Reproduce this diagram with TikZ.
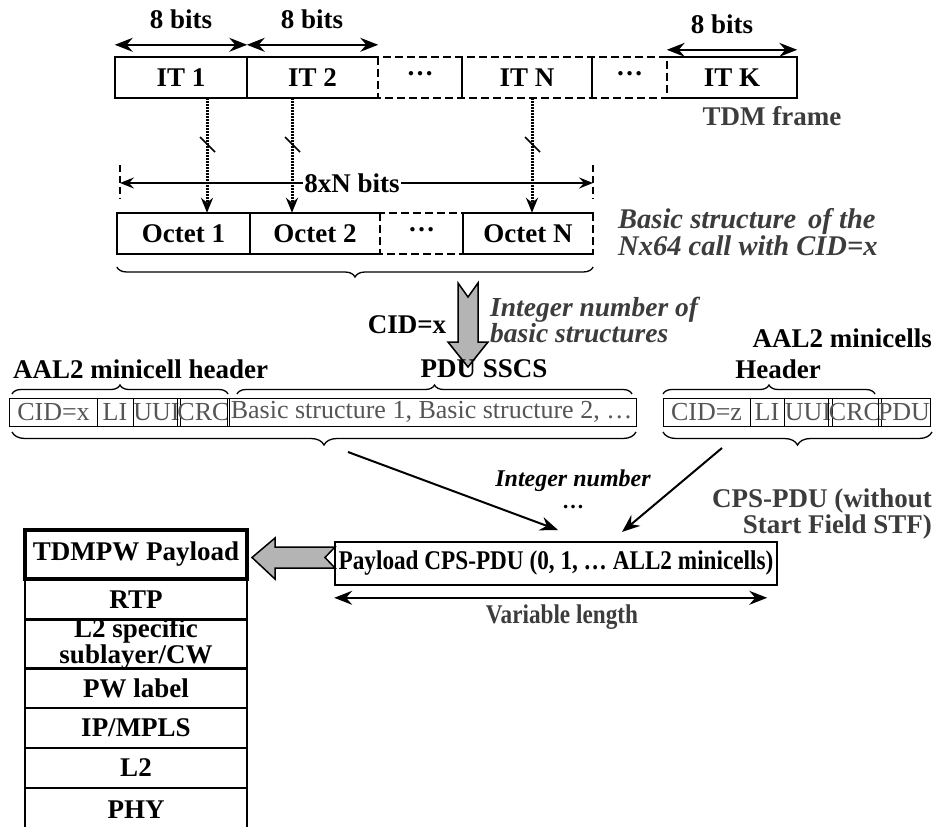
\documentclass[tikz,border=0pt]{standalone}
\usepackage{fontspec}
\setmainfont{Liberation Serif}
\usetikzlibrary{arrows.meta,decorations.pathreplacing,calc}
\definecolor{txtgray}{HTML}{3C3C3C}
\definecolor{cellgray}{HTML}{555555}
\definecolor{arrowfill}{HTML}{B4B4B4}
\newcommand\bigf{\fontsize{27bp}{30bp}\selectfont}
\newcommand\cellf{\fontsize{26bp}{28bp}\selectfont}
\newcommand\middots{\raisebox{0.28em}{…}}
\begin{document}
\begin{tikzpicture}[x=1bp,y=-1bp,
  lbl/.style={font=\bigf\bfseries, inner sep=0pt, anchor=base},
  glbl/.style={lbl, text=txtgray},
  cellbox/.style={inner sep=0pt, minimum height=41bp, font=\bigf\bfseries},
  rowcell/.style={draw, line width=1bp, inner sep=0pt, minimum height=28bp, font=\cellf, text=cellgray},
  solidline/.style={line width=1.6bp},
  dashline/.style={line width=1.6bp, dash pattern=on 8bp off 4bp},
  dblarrow/.style={line width=2bp, {Stealth[length=18pt,width=14pt,inset=6pt]}-{Stealth[length=18pt,width=14pt,inset=6pt]}},
  onearrow/.style={line width=2bp, -{Stealth[length=18pt,width=14pt,inset=6pt]}},
  dotarrow/.style={line width=3bp, dash pattern=on 1.5bp off 1.5bp, -{Stealth[length=15pt,width=12pt]}},
  tick/.style={line width=1.6bp},
  brc/.style={decorate, decoration={brace, amplitude=#1}, line width=1.3bp},
  garrow/.style={draw, line width=1.5bp, fill=arrowfill, line join=miter},
  stackbox/.style={draw, line width=2bp, minimum width=222bp, inner sep=0pt, font=\bigf\bfseries}
]
\useasboundingbox (0,0) rectangle (938,827);

% ---------- TDM frame row ----------
\node[cellbox, minimum width=132bp] (it1) at (181,77.5) {IT 1};
\node[cellbox, minimum width=131bp] (it2) at (312.5,77.5) {IT 2};
\node[cellbox, minimum width=84bp] (dots1) at (420,77.5) {\middots};
\node[cellbox, minimum width=130bp] (itN) at (527,77.5) {IT N};
\node[cellbox, minimum width=75bp] (dots2) at (629.5,77.5) {\middots};
\node[cellbox, minimum width=130bp] (itK) at (732,77.5) {IT K};

\draw[dashline] (it2.north east) rectangle (dots2.south east);
\draw[solidline] (it2.north east) -- (it1.north west) -- (it1.south west) -- (it2.south east);
\draw[solidline] (it1.north east) -- (it1.south east);
\draw[solidline] (itN.north west) -- (itN.south west);
\draw[solidline] (itN.north east) -- (itN.south east);
\draw[solidline] (itK.north west) -- (itK.north east) -- (itK.south east) -- (itK.south west);

\draw[dblarrow] (it1.north west) ++(0,-12) coordinate (a1l) -- (it1.north east |- a1l) coordinate (a1r);
\draw[dblarrow] (it2.north west |- a1l) -- (it2.north east |- a1l);
\draw[dblarrow] (itK.north west) ++(0,-7) coordinate (aKl) -- (itK.north east |- aKl);

\node[lbl] (b1) at (181,28) {8 bits};
\node[lbl] (b2) at (312,28) {8 bits};
\node[lbl] (bK) at (722,33) {8 bits};
\node[glbl] (tdm) at (772,125) {TDM frame};

% ---------- Octet row ----------
\node[cellbox, minimum width=133bp] (oc1) at (183.5,233.5) {Octet 1};
\node[cellbox, minimum width=130bp] (oc2) at (315,233.5) {Octet 2};
\node[cellbox, minimum width=83bp] (ocd) at (421.5,233.5) {\middots};
\node[cellbox, minimum width=130bp] (ocN) at (528,233.5) {Octet N};

\draw[dashline] (oc2.north east) rectangle (ocN.south east);
\draw[solidline] (oc2.north east) -- (oc1.north west) -- (oc1.south west) -- (oc2.south east);
\draw[solidline] (oc1.north east) -- (oc1.south east);
\draw[solidline] (ocN.north east) -- (ocN.north west) -- (ocN.south west) -- (ocN.south east);

% dotted arrows between rows
\coordinate (d1) at (207,98);
\coordinate (d2) at (292,98);
\coordinate (d3) at (532,98);
\draw[dotarrow] (d1) -- (d1 |- oc1.north);
\draw[dotarrow] (d2) -- (d2 |- oc2.north);
\draw[dotarrow] (d3) -- (d3 |- ocN.north);
\foreach \c in {d1,d2,d3}{
  \draw[tick] ($(\c)+(-7,39)$) -- ($(\c)+(8,54)$);
}

% 8xN bits
\coordinate (nl) at (120,183);
\coordinate (nr) at (593,183);
\draw[tick, dash pattern=on 7bp off 4bp] (120,165) -- (120,199);
\draw[tick, dash pattern=on 7bp off 4bp] (593,165) -- (593,199);
\draw[line width=2bp, {Stealth[length=14pt,width=11pt,inset=5pt]}-{Stealth[length=14pt,width=11pt,inset=5pt]}] (nl) -- (nr);
\node[lbl, fill=white, inner xsep=1bp] (nbits) at (352,192) {8xN bits};

% brace under octets
\draw[brc=10bp] (ocN.south east |- 0,267) -- (oc1.south west |- 0,267);

\node[lbl, anchor=base west, font=\fontsize{28.5bp}{23bp}\selectfont\bfseries\itshape, text=txtgray, align=left] (bs1) at (618,255) {Basic structure\, of the\\Nx64 call with CID=x};

% big gray down arrow
\draw[garrow] (458,283) -- (468,297) -- (478,283) -- (478,342) -- (488,342) -- (468,367) -- (448,342) -- (458,342) -- cycle;
\node[lbl] (cidx) at (407,333) {CID=x};
\node[lbl, anchor=base west, font=\fontsize{27.5bp}{22bp}\selectfont\bfseries\itshape, text=txtgray, align=left] (intn) at (490,342) {Integer number of\\basic structures};

% ---------- AAL2 rows ----------
\node[lbl, anchor=base west] (hdr) at (13,378) {AAL2 minicell header};
\node[lbl] (pdus) at (484,377) {PDU SSCS};
\node[lbl, anchor=base east] (aalm) at (932,347) {AAL2 minicells};
\node[lbl] (hdr2) at (778,378) {Header};

\node[rowcell, minimum width=87bp] (c1) at (53.5,412) {CID=x};
\node[rowcell, minimum width=36bp] (c2) at (115,412) {LI};
\node[rowcell, minimum width=47bp] (c3) at (156.5,412) {UUI};
\node[rowcell, minimum width=47bp] (c4) at (203.5,412) {CRC};
\node[rowcell, minimum width=409bp] (c5) at (431.5,412) {Basic structure 1, Basic structure 2, …};

\node[rowcell, minimum width=87bp] (z1) at (706.5,412) {CID=z};
\node[rowcell, minimum width=34bp] (z2) at (767,412) {LI};
\node[rowcell, minimum width=48bp] (z3) at (808,412) {UUI};
\node[rowcell, minimum width=46bp] (z4) at (855,412) {CRC};
\node[rowcell, minimum width=52bp] (z5) at (904,412) {PDU};

\draw[brc=9bp] (12,394) -- (228,394);
\draw[brc=9bp] (237,394) -- (632,394);
\draw[brc=9bp] (663,394) -- (875,394);
\draw[brc=13bp] (636,432) -- (12,432);
\draw[brc=13bp] (932,432) -- (663,432);

% ---------- CPS-PDU ----------
\node[draw, line width=1.6bp, minimum width=442bp, minimum height=43bp, inner sep=0pt, font=\bigf\bfseries] (pay) at (556,563.5) {\scalebox{0.86}[1]{Payload CPS-PDU (0, 1, … ALL2 minicells)}};

\coordinate (s1) at (348,452);
\coordinate (s2) at (722,448);
\draw[onearrow] (s1) -- (558,530);
\draw[onearrow] (s2) -- (622,532);

\node[lbl, font=\fontsize{24bp}{26bp}\selectfont\bfseries\itshape] (intg) at (573,486) {Integer number};
\node[lbl, font=\fontsize{22bp}{24bp}\selectfont\bfseries] (intd) at (573,508) {…};
\node[glbl, anchor=base east] (cps1) at (932,507) {CPS-PDU (without};
\node[glbl, anchor=base east] (cps2) at (932,533) {Start Field STF)};

\draw[dblarrow] (pay.south west) ++(0,12) -- ++(433,0);
\node[glbl] (varl) at (562,623) {\scalebox{0.86}[1]{Variable length}};

% ---------- Stack ----------
\node[stackbox, minimum height=41bp] (rtp) at (136,599.5) {RTP};
\node[stackbox, minimum height=48bp, align=center, font=\fontsize{27bp}{23bp}\selectfont\bfseries] (l2s) at (136,644) {L2 specific\\sublayer/CW};
\node[stackbox, minimum height=40bp] (pwl) at (136,688) {PW label};
\node[stackbox, minimum height=40bp] (ipm) at (136,728) {IP/MPLS};
\node[stackbox, minimum height=40bp] (l2) at (136,768) {L2};
\node[stackbox, minimum height=44bp] (phy) at (136,810) {PHY};
\node[stackbox, line width=4bp, minimum height=49bp, fill=white] (tdmpw) at (136,554.5) {TDMPW Payload};

% gray left arrow
\draw[garrow] (335,547) -- (325,557.5) -- (335,568) -- (275,568) -- (275,579) -- (252,557.5) -- (275,538) -- (275,547) -- cycle;

\end{tikzpicture}
\end{document}
